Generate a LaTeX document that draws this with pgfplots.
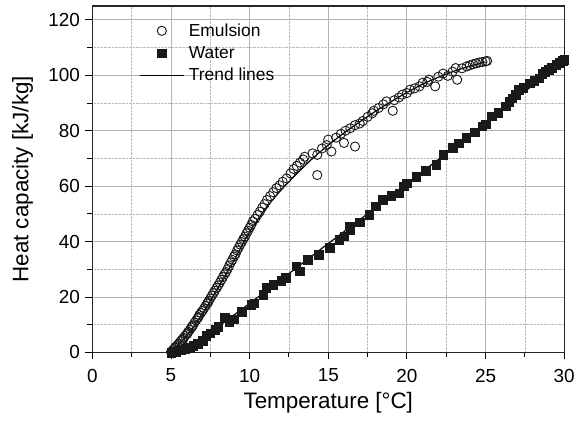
\documentclass[border=0pt]{standalone}
\usepackage{fontspec}
\setmainfont{Liberation Sans}
\usepackage{pgfplots}
\pgfplotsset{compat=1.18}
\begin{document}
\begin{tikzpicture}
\begin{axis}[
  scale only axis,
  width=472.5bp, height=347bp,
  xmin=0, xmax=30, ymin=0, ymax=125,
  xtick={0,5,...,30}, ytick={0,20,...,120},
  minor x tick num=1, minor y tick num=1,
  tick pos=left, tick align=outside,
  major tick length=7bp, minor tick length=5bp,
  every tick/.style={black, line width=1pt},
  axis line style={line width=1.1pt, black!85},
  grid=both,
  major grid style={gray!60, line width=0.9pt},
  minor grid style={gray!55, densely dotted, line width=0.7pt},
  /pgf/number format/assume math mode=true,
  ticklabel style={font=\fontsize{19}{22}\selectfont},
  xticklabel style={yshift=-6bp},
  yticklabel style={xshift=-2bp},
  xlabel={Temperature [°C]},
  ylabel={Heat capacity [kJ/kg]},
  label style={font=\fontsize{22.5}{26}\selectfont},
  xlabel style={at={(axis description cs:0.5,-0.145)}, anchor=center},
  ylabel style={at={(axis description cs:-0.148,0.5)}, anchor=center, rotate=0},
  legend image code/.code={\draw[mark repeat=2,mark phase=2,#1] plot coordinates {(0bp,0bp) (21.5bp,0bp) (43bp,0bp)};},
  legend style={at={(axis description cs:0.10,0.955)}, anchor=north west, draw=none, fill=none,
    font=\fontsize{17.5}{20}\selectfont, row sep=4.5bp, inner sep=0pt, column sep=3bp},
  legend cell align=left,
]
% Emulsion points
\addplot[only marks, mark=o, mark size=4.6bp, black!90, mark options={line width=0.9pt}] coordinates {
(5.0,0.2) (5.1,0.8) (5.2,1.2) (5.25,1.8) (5.3,2.0) (5.4,2.6) (5.5,3.2) (5.55,3.0) (5.6,4.0) (5.7,4.6)
(5.75,4.4) (5.8,5.3) (5.9,6.0) (6.0,6.6) (6.05,6.9) (6.1,7.5) (6.2,8.2) (6.3,9.0) (6.35,9.5) (6.4,9.8)
(6.5,10.8) (6.6,11.6) (6.7,12.4) (6.75,12.8) (6.8,13.5) (6.9,14.3) (7.0,15.0) (7.1,15.9) (7.2,16.8) (7.3,17.6)
(7.35,18.0) (7.4,18.6) (7.5,19.5) (7.6,20.5) (7.7,21.4) (7.8,22.3) (7.9,23.3) (8.0,24.2) (8.1,25.2) (8.2,26.2)
(8.3,27.2) (8.4,28.2) (8.5,29.0) (8.6,30.1) (8.7,31.3) (8.8,32.5) (8.9,33.4) (9.0,34.6) (9.1,35.4) (9.2,36.8)
(9.3,37.8) (9.4,38.9) (9.5,39.8) (9.6,40.9) (9.7,41.8) (9.8,43.0) (9.9,43.9) (10.0,45.0) (10.1,46.0) (10.2,47.3)
(10.35,48.2) (10.5,49.6) (10.65,50.8) (10.8,52.3) (10.95,53.5) (11.1,55.0) (11.3,56.4) (11.5,57.8) (11.7,59.3) (11.9,60.3)
(12.1,61.6) (12.35,62.8) (12.6,64.6) (12.8,66.2) (13.0,67.3) (13.2,68.5) (13.4,69.6) (13.5,70.6) (14.0,71.8) (14.3,71.3)
(14.3,64.0) (14.6,73.6) (14.9,74.8) (15.0,76.8) (15.2,72.5) (15.5,77.5) (15.8,78.9) (16.0,75.6) (16.1,80.0) (16.4,80.9)
(16.7,74.3) (16.7,82.0) (17.0,82.6) (17.2,83.5) (17.5,85.0) (17.8,86.3) (17.9,87.2) (18.2,88.2) (18.5,89.5) (18.7,90.6)
(19.1,87.2) (19.2,91.0) (19.5,92.0) (19.7,93.0) (20.0,93.6) (20.2,94.8) (20.5,95.3) (20.8,96.0) (21.0,97.3) (21.3,97.6)
(21.4,98.4) (21.8,96.0) (22.0,99.5) (22.3,100.6) (22.6,99.8) (22.9,101.3) (23.1,102.6) (23.2,98.4) (23.5,102.5) (23.8,103.2)
(24.0,103.6) (24.2,104.0) (24.4,104.3) (24.6,104.6) (24.8,104.8) (25.0,105.0) (25.1,105.2)
};
\addlegendentry{Emulsion}
% Water points
\addplot[only marks, mark=square*, mark size=4.3bp, black!90] coordinates {
(5.0,0.0) (5.3,0.3) (5.6,0.8) (5.9,1.3) (6.2,1.8) (6.4,2.4) (6.7,3.2) (7.0,4.2) (7.25,6.0) (7.5,7.0)
(7.8,8.3) (8.0,9.2) (8.4,12.8) (8.7,11.0) (9.0,12.0) (9.5,14.7) (10.1,17.3) (10.3,17.8) (10.85,20.9) (11.06,23.3)
(11.5,24.5) (12.0,26.0) (12.3,27.0) (12.97,31.1) (13.2,29.3) (13.7,33.5) (14.4,35.3) (15.08,37.7) (15.7,40.7) (16.0,42.0)
(16.35,45.5) (16.4,44.3) (17.0,47.0) (17.6,49.7) (18.0,52.7) (18.46,55.1) (19.0,56.5) (19.5,57.5) (19.8,60.0) (20.0,61.0)
(20.6,63.5) (21.2,65.5) (21.85,67.7) (22.3,71.4) (22.9,73.8) (23.3,75.5) (23.76,77.4) (24.3,79.5) (24.8,81.6) (25.0,82.4)
(25.4,85.2) (25.8,86.5) (26.3,88.8) (26.5,90.5) (26.7,91.8) (26.9,93.0) (27.1,94.8) (27.4,95.6) (27.8,97.2) (28.1,98.0)
(28.4,99.0) (28.6,100.5) (28.8,101.4) (29.0,102.0) (29.2,102.8) (29.5,103.8) (29.7,104.5) (29.9,105.3) (30.0,105.6)
};
\addlegendentry{Water}
% Trend lines
\addplot[black, line width=1.2pt, smooth] coordinates {
(5,0) (6,6) (7,14) (8,23.5) (9,33.2) (10,43.5) (11,51.8) (12,58.6) (13,64.5) (14,70) (15,74.8) (16,79.2) (17,83.2)
(18,87) (19,90.5) (20,93.8) (21,96.8) (22,99.3) (23,101.5) (24,103.3) (25,104.8)
};
\addlegendentry{Trend lines}
\addplot[black, line width=1.2pt, smooth, forget plot] coordinates {
(5,0) (6,1.8) (7,5) (8,9.3) (9,13.5) (10,17.7) (11,22) (12,26.3) (14,35) (16,43.6) (18,52.2) (20,61) (22,69.6)
(24,78.4) (26,87.4) (28,96.4) (30,105.5)
};
\end{axis}
\path ([xshift=-92.5bp,yshift=6bp]current axis.north west) rectangle ([xshift=13bp,yshift=-73bp]current axis.south east);
\end{tikzpicture}
\end{document}
